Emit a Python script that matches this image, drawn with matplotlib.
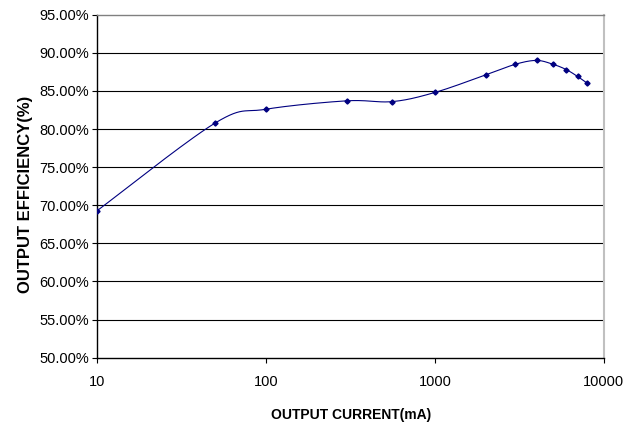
#!/usr/bin/env python3
"""
Output efficiency vs output current (Excel-style smoothed line)
"""

import matplotlib
matplotlib.use('Agg')
import matplotlib.pyplot as plt
from matplotlib.ticker import FuncFormatter, FixedLocator, NullLocator
import numpy as np

plt.rcParams['font.family'] = ['Liberation Sans', 'DejaVu Sans']

# Data
current_ma = [10, 50, 100, 300, 560, 1000, 2000, 3000, 4000, 5000, 6000, 7000, 8000]
efficiency = [69.3, 80.8, 82.6, 83.7, 83.6, 84.8, 87.1, 88.5, 89.0, 88.5, 87.8, 86.9, 86.0]

y_ticks = [50, 55, 60, 65, 70, 75, 80, 85, 90, 95]
x_ticks = [10, 100, 1000, 10000]


def smooth_display(ax, xs, ys, steps=30):
    """Catmull-Rom curve through the points, computed in screen space like Excel"""
    pts = ax.transData.transform(np.column_stack([xs, ys]))
    p = np.vstack([pts[0], pts, pts[-1]])
    out = []
    t = np.linspace(0, 1, steps)[:, None]
    for i in range(1, len(p) - 2):
        p0, p1, p2, p3 = p[i - 1], p[i], p[i + 1], p[i + 2]
        c1 = p1 + (p2 - p0) / 6.0
        c2 = p2 - (p3 - p1) / 6.0
        seg = ((1 - t) ** 3) * p1 + 3 * ((1 - t) ** 2) * t * c1 \
            + 3 * (1 - t) * t ** 2 * c2 + t ** 3 * p2
        out.append(seg if i == 1 else seg[1:])
    out = np.vstack(out)
    data = ax.transData.inverted().transform(out)
    return data[:, 0], data[:, 1]


fig = plt.figure(figsize=(6.39, 4.25), dpi=100)
ax = fig.add_axes([97.3 / 639, 67.3 / 425, 506.4 / 639, 343 / 425])

ax.set_xscale('log')
ax.set_xlim(10, 10000)
ax.set_ylim(50, 95)

# grid lines
for v in y_ticks[1:-1]:
    ax.axhline(v, color='black', linewidth=0.8, zorder=1)

# smoothed line + markers
sx, sy = smooth_display(ax, current_ma, efficiency)
ax.plot(sx, sy, color='#000080', linewidth=0.8, zorder=3)
ax.plot(current_ma, efficiency, linestyle='none', marker='D', markersize=2.6,
        color='#000080', zorder=4)

# axes
ax.spines['left'].set_color('black')
ax.spines['bottom'].set_color('black')
ax.spines['top'].set_color('#808080')
ax.spines['right'].set_color('#c0c0c0')
for s in ax.spines.values():
    s.set_linewidth(1.0)
ax.spines['right'].set_linewidth(1.5)

ax.xaxis.set_major_locator(FixedLocator(x_ticks))
ax.xaxis.set_minor_locator(NullLocator())
ax.set_xticklabels([str(v) for v in x_ticks])
ax.yaxis.set_major_locator(FixedLocator(y_ticks))
ax.yaxis.set_major_formatter(FuncFormatter(lambda v, p: f'{v:.2f}%'))

ax.tick_params(axis='both', direction='out', length=3.6, width=0.8,
               color='black', labelsize=10.5, labelcolor='black')
ax.tick_params(axis='x', pad=9)
ax.tick_params(axis='y', pad=2.5)

ax.set_xlabel('OUTPUT CURRENT(mA)', fontsize=10, fontweight='bold', va='center')
ax.xaxis.set_label_coords(0.501, -0.167)
ax.set_ylabel('OUTPUT EFFICIENCY(%)', fontsize=12, fontweight='bold', va='center')
ax.yaxis.set_label_coords(-0.1416, 0.477)

fig.savefig('out.png', dpi=100, facecolor='white')
